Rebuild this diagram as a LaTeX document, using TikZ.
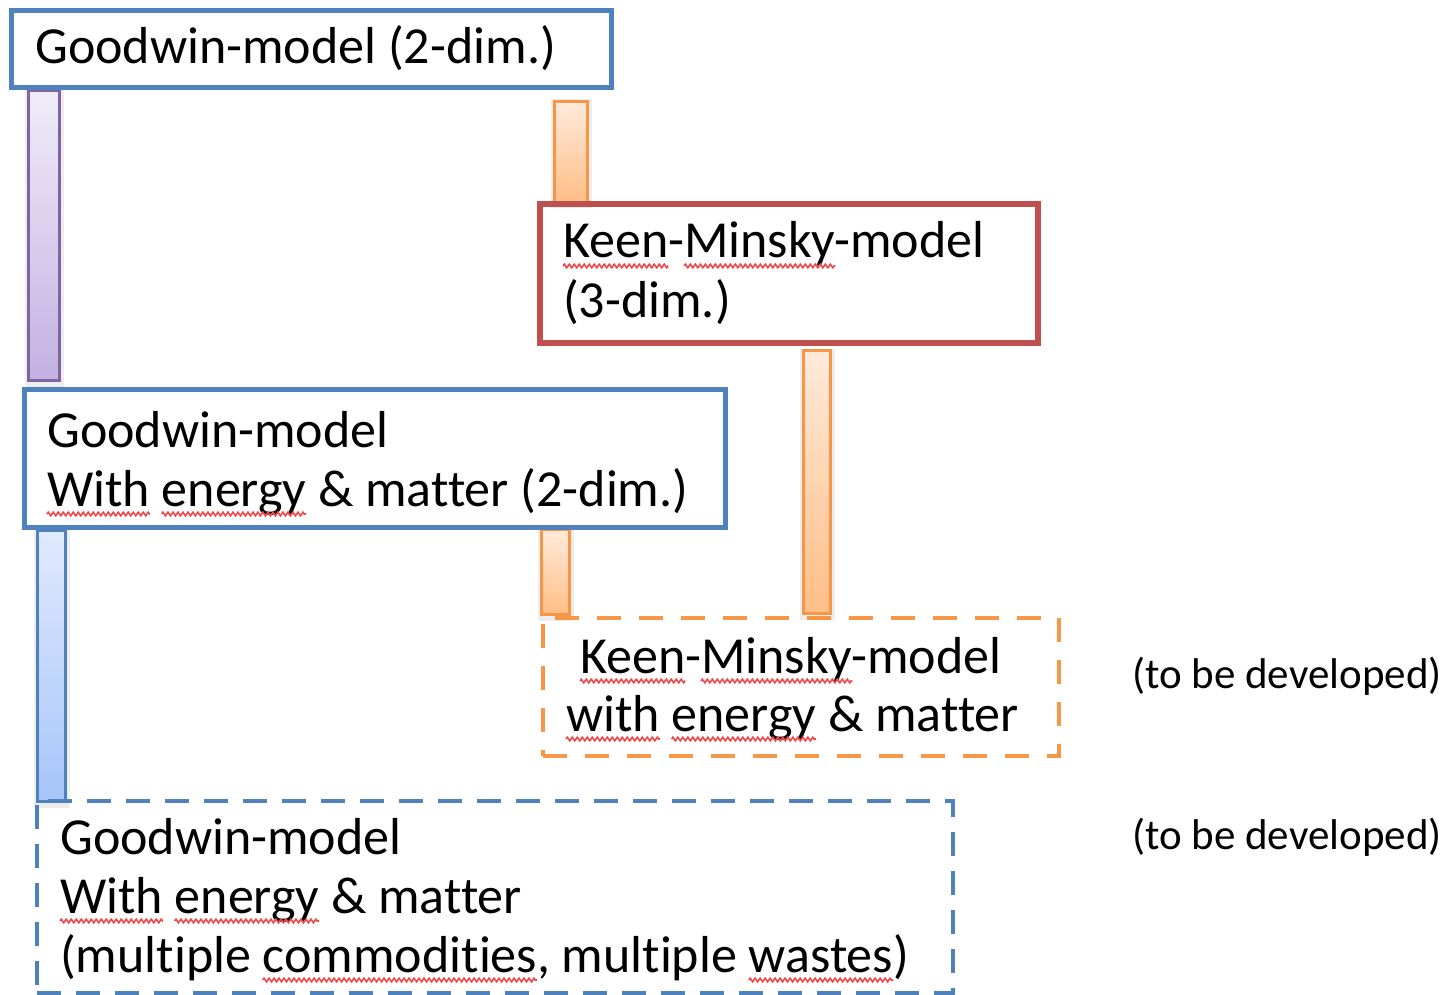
\documentclass[tikz,border=0pt]{standalone}
\usepackage{fontspec}
\setmainfont{Carlito}[Ligatures={NoCommon}]
\usetikzlibrary{calc,decorations.pathmorphing}
\definecolor{bluebox}{HTML}{4F81BD}
\definecolor{redbox}{HTML}{C0504D}
\definecolor{orangebox}{HTML}{F79646}
\definecolor{purplebar}{HTML}{8064A2}
\definecolor{squig}{HTML}{F24848}
\definecolor{ptop}{HTML}{F1ECF9}
\definecolor{pbot}{HTML}{C3B0E1}
\definecolor{otop}{HTML}{FFEADB}
\definecolor{obot}{HTML}{FFBE86}
\definecolor{btop}{HTML}{E0EAFC}
\definecolor{bbot}{HTML}{A6C4FA}
\newcommand\boxfont{\fontsize{52}{59}\selectfont}
\newsavebox\sqpre
\newsavebox\sqword
\newdimen\sqpreW
\newdimen\sqwordW
\newcommand\squig[3]{%
  \pgfinterruptpicture
    \global\setbox\sqpre\hbox{\normalfont\boxfont #2}%
    \global\setbox\sqword\hbox{\normalfont\boxfont #3}%
  \endpgfinterruptpicture
  \sqpreW=\wd\sqpre \sqwordW=\wd\sqword
  \draw[squiggle] ([xshift=\sqpreW, yshift=-8pt]#1.base west) -- ++(\sqwordW,0pt);}
\begin{document}
\begin{tikzpicture}[x=1pt,y=-1pt,
  boxtext/.style={anchor=base west, inner sep=0, font=\boxfont},
  notetext/.style={anchor=base west, inner sep=0, font=\fontsize{43}{50}\selectfont},
  solidbox/.style={draw, line width=5pt, rectangle, inner sep=0},
  dashbox/.style={draw, line width=4pt, rectangle, inner sep=0, dash pattern=on 24pt off 18pt},
  barbase/.style={draw, line width=3pt, rectangle, inner sep=0,
    preaction={draw=black!7, line width=8pt, transform canvas={yshift=-2pt}}},
  purplebarstyle/.style={barbase, draw=purplebar, top color=ptop, bottom color=pbot},
  orangebarstyle/.style={barbase, draw=orangebox, top color=otop, bottom color=obot},
  bluebarstyle/.style={barbase, draw=bluebox, top color=btop, bottom color=bbot},
  squiggle/.style={draw=squig, line width=1.6pt,
    decoration={zigzag, segment length=5pt, amplitude=1.8pt}, decorate},
]
\useasboundingbox (0,0) rectangle (1443,995);

% bars (connectors)
\node[purplebarstyle, minimum width=31pt, minimum height=290pt] (barP) at (44,235.5) {};
\node[orangebarstyle, minimum width=33pt, minimum height=101pt] (barO1) at (571,152) {};
\node[orangebarstyle, minimum width=27pt, minimum height=263pt] (barO2) at (817,482) {};
\node[bluebarstyle, minimum width=28pt, minimum height=271pt] (barB) at (51.5,666) {};
\node[orangebarstyle, minimum width=28pt, minimum height=85pt] (barO3) at (555.5,572) {};

% boxes
\node[solidbox, draw=bluebox, minimum width=600pt, minimum height=77pt] (g2) at (311.5,49) {};
\node[solidbox, draw=redbox, line width=5.5pt, minimum width=498pt, minimum height=139pt] (km) at (789,273.5) {};
\node[solidbox, draw=bluebox, minimum width=701pt, minimum height=138pt] (gem) at (374.5,458) {};
\node[dashbox, draw=orangebox, minimum width=516pt, minimum height=138pt] (kmem) at (801,687) {};
\node[dashbox, draw=bluebox, dash pattern=on 24pt off 15pt, minimum width=916pt, minimum height=192pt] (gmc) at (495,897) {};

% texts
\node[boxtext] (t1) at (35,64) {Goodwin-model (2-dim.)};
\node[boxtext] (t2a) at (563,258) {Keen-Minsky-model};
\node[boxtext] (t2b) at (563,317) {(3-dim.)};
\node[boxtext] (t3a) at (47,447) {Goodwin-model};
\node[boxtext] (t3b) at (47,506) {With energy \& matter (2-dim.)};
\node[boxtext] (t4a) at (580,673) {Keen-Minsky-model};
\node[boxtext] (t4b) at (566,731) {with energy \& matter};
\node[boxtext] (t5a) at (60,854) {Goodwin-model};
\node[boxtext] (t5b) at (60,913) {With energy \& matter};
\node[boxtext] (t5c) at (60,972) {(multiple commodities, multiple wastes)};
\node[notetext] (n1) at (1132,688) {(to be developed)};
\node[notetext] (n2) at (1132,849) {(to be developed)};

% spell-check squiggles
\squig{t2a}{}{Keen}
\squig{t2a}{Keen-}{Minsky}
\squig{t3b}{}{With}
\squig{t3b}{With }{energy}
\squig{t4a}{}{Keen}
\squig{t4a}{Keen-}{Minsky}
\squig{t4b}{}{with}
\squig{t4b}{with }{energy}
\squig{t5b}{}{With}
\squig{t5b}{With }{energy}
\squig{t5c}{(multiple }{commodities}
\squig{t5c}{(multiple commodities, multiple }{wastes}
\end{tikzpicture}
\end{document}
